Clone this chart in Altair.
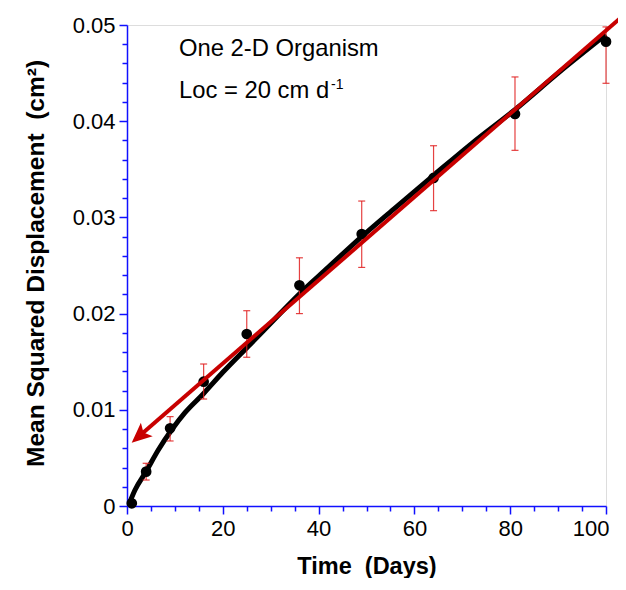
import altair as alt
import pandas as pd

# ---- data ----
DAYS = [1, 4, 9, 16, 25, 36, 49, 64, 81, 100]
MSD = [0.00028, 0.00357, 0.00808, 0.01292, 0.01788, 0.02294, 0.02827, 0.0341, 0.04075, 0.04827]
ERR_LO = [0.0001, 0.0027, 0.00676, 0.01112, 0.01546, 0.0200, 0.0248, 0.0307, 0.03697, 0.04394]
ERR_HI = [0.0005, 0.00444, 0.00929, 0.01476, 0.0203, 0.0258, 0.0317, 0.03745, 0.0446, 0.0498]

FIT_T = [0.5, 1.67, 4, 6.5, 9.3, 12.1, 16, 20, 25.7, 30, 36.3, 42, 49, 56, 64.3, 72, 81.5, 90, 100]
FIT_MSD = [0.0003, 0.00166, 0.0036, 0.0058, 0.0079, 0.0097, 0.0117, 0.0139, 0.0168, 0.0190,
           0.0222, 0.0248, 0.0280, 0.0310, 0.0345, 0.0377, 0.0414, 0.0450, 0.0490]

TREND_T = [3.0, 104.2]
TREND_MSD = [0.00745, 0.05125]
ARROW_T = [0.98]
ARROW_MSD = [0.00658]

X_MAJOR = [0, 20, 40, 60, 80, 100]
X_TICKS = list(range(0, 101, 5))
Y_MAJOR = [0, 0.01, 0.02, 0.03, 0.04, 0.05]
Y_TICKS = [round(i * 0.002, 3) for i in range(26)]

pts = pd.DataFrame({"t": DAYS, "msd": MSD, "lo": ERR_LO, "hi": ERR_HI})
fit = pd.DataFrame({"t": FIT_T, "msd": FIT_MSD})
trend = pd.DataFrame({"t": TREND_T, "msd": TREND_MSD})
arrow = pd.DataFrame({"t": ARROW_T, "msd": ARROW_MSD})
one = pd.DataFrame({"k": [0]})

BLUE = "#1010ff"
FONT = "Liberation Sans"
NB = "\u00a0"

xs = alt.Scale(domain=[0, 100], nice=False, zero=False)
ys = alt.Scale(domain=[0, 0.05], nice=False, zero=False)

xax = alt.Axis(
    values=X_TICKS,
    labelExpr="datum.value % 20 == 0 ? datum.label : ''",
    tickSize={"condition": {"test": "datum.value % 20 == 0", "value": 8}, "value": 5},
    labelAlign={"condition": {"test": "datum.value == 100", "value": "right"}, "value": "center"},
    labelOffset={"condition": {"test": "datum.value == 100", "value": 3}, "value": 0},
    title="Time" + NB + NB + "(Days)",
    titleFontSize=23.5, titleFontWeight="bold", titleFont=FONT, titleColor="black",
    titleY=67, titleBaseline="alphabetic",
    labelFontSize=22, labelFont=FONT, labelColor="black", labelPadding=4,
    labelFlush=False, labelOverlap=False, labelBound=False,
    domainColor=BLUE, tickColor=BLUE, domainWidth=1.5, tickWidth=1.5, grid=False,
)
yax = alt.Axis(
    values=Y_TICKS,
    labelExpr="abs(datum.value*100 - round(datum.value*100)) < 0.000001 ? (datum.value == 0 ? '0' : format(datum.value, '.2f')) : ''",
    tickSize={"condition": {"test": "abs(datum.value*100 - round(datum.value*100)) < 0.000001", "value": 8}, "value": 5},
    title="Mean Squared Displacement" + NB + NB + "(cm²)",
    titleFontSize=24.5, titleFontWeight="bold", titleFont=FONT, titleColor="black",
    titleX=-84, titleY=238, titleAngle=270, titleAlign="center", titleBaseline="alphabetic",
    labelFontSize=22, labelFont=FONT, labelColor="black", labelPadding=4,
    labelFlush=False, labelOverlap=False, labelBound=False,
    domainColor=BLUE, tickColor=BLUE, domainWidth=1.5, tickWidth=1.5, grid=False,
)

X = alt.X("t:Q", scale=xs, axis=xax)
Y = alt.Y("msd:Q", scale=ys, axis=yax)

curve = alt.Chart(fit).mark_line(color="black", strokeWidth=5, interpolate="monotone").encode(x=X, y=Y)

bars = alt.Chart(pts).mark_rule(color="#e02020", strokeWidth=1.2, opacity=0.85).encode(
    x=X, y=alt.Y("lo:Q", scale=ys, axis=yax), y2="hi:Q")
cap_lo = alt.Chart(pts).mark_tick(color="#e02020", thickness=1.2, size=7, opacity=0.85, orient="horizontal").encode(
    x=X, y=alt.Y("lo:Q", scale=ys, axis=yax))
cap_hi = alt.Chart(pts).mark_tick(color="#e02020", thickness=1.2, size=7, opacity=0.85, orient="horizontal").encode(
    x=X, y=alt.Y("hi:Q", scale=ys, axis=yax))

dots = alt.Chart(pts).mark_point(filled=True, color="black", size=115, opacity=1).encode(x=X, y=Y)

red = alt.Chart(trend).mark_line(color="#c80000", strokeWidth=4, clip=False).encode(x=X, y=Y)
head = alt.Chart(arrow).mark_point(
    shape="M0,0 L0.45,1 L0,0.78 L-0.45,1 Z", angle=229, size=1600,
    filled=True, color="#c80000", opacity=1).encode(x=X, y=Y)

txt1 = alt.Chart(one).mark_text(text="One 2-D Organism", font=FONT, fontSize=23.8, align="left",
                                baseline="alphabetic", color="black").encode(
    x=alt.value(52), y=alt.value(31))
txt2 = alt.Chart(one).mark_text(text="Loc = 20 cm d", font=FONT, fontSize=23.8, align="left",
                                baseline="alphabetic", color="black").encode(
    x=alt.value(52), y=alt.value(73))
txt3 = alt.Chart(one).mark_text(text="-1", font=FONT, fontSize=14, align="left",
                                baseline="alphabetic", color="black").encode(
    x=alt.value(204), y=alt.value(64))

chart = alt.layer(curve, bars, cap_lo, cap_hi, dots, red, head, txt1, txt2, txt3).properties(
    width=479, height=481,
    autosize=alt.AutoSizeParams(type="none"),
    padding={"left": 119, "top": 17, "right": 12, "bottom": 72},
).configure_view(stroke=None).configure(background="white")

chart.save("out.html", embed_options={"renderer": "svg", "actions": False})
